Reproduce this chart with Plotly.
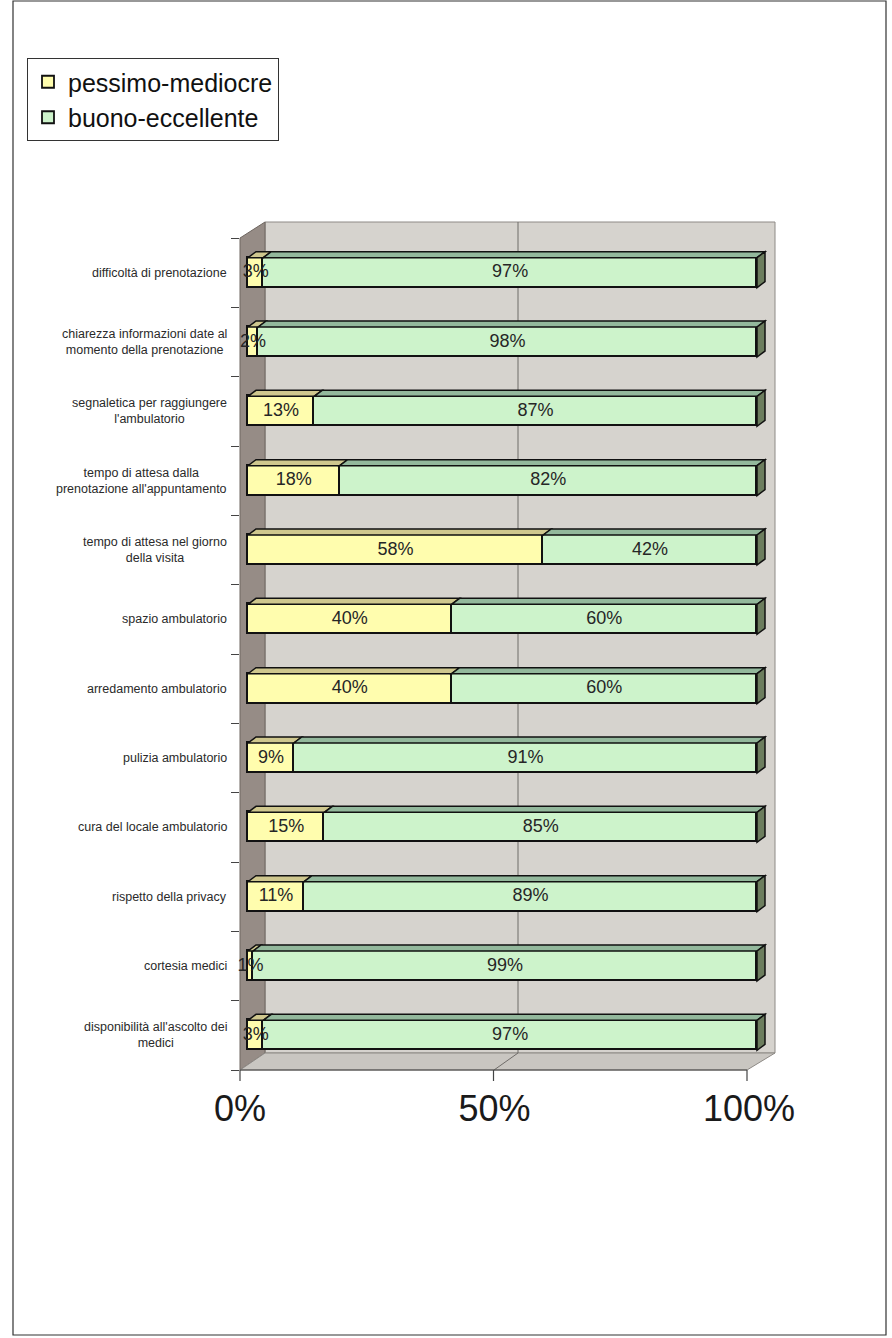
import plotly.graph_objects as go

# ---------------- data ----------------
categories = [
    "difficoltà di prenotazione",
    "chiarezza informazioni date al<br>momento della prenotazione",
    "segnaletica per raggiungere<br>l'ambulatorio",
    "tempo di attesa dalla<br>prenotazione all'appuntamento",
    "tempo di attesa nel giorno<br>della visita",
    "spazio ambulatorio",
    "arredamento ambulatorio",
    "pulizia ambulatorio",
    "cura del locale ambulatorio",
    "rispetto della privacy",
    "cortesia medici",
    "disponibilità all'ascolto dei<br>medici",
]
pessimo_mediocre = [3, 2, 13, 18, 58, 40, 40, 9, 15, 11, 1, 3]
buono_eccellente = [97, 98, 87, 82, 42, 60, 60, 91, 85, 89, 99, 97]
series_names = ["pessimo-mediocre", "buono-eccellente"]
x_tickvals = [0, 50, 100]
x_ticktext = ["0%", "50%", "100%"]

# ---------------- style / geometry ----------------
W, H = 892, 1338
PL, PR, PT, PB = 240, 775, 222, 1070          # plot area in pixels
BAR0, BAR100 = 248, 757                        # bar scale (front face)
FRONT_TOP = 238                                # top category boundary (front)
pxu = (BAR100 - BAR0) / 100.0
x_range = [(PL - BAR0) / pxu, (PR - BAR0) / pxu]
n = len(categories)
cat_px = (PB - FRONT_TOP) / n
y_range = [-0.5, n - 0.5 + (FRONT_TOP - PT) / cat_px]
ypos = list(range(n - 1, -1, -1))             # first category on top

def xp(px):
    return (px - PL) / (PR - PL)

def yp(py):
    return (PB - py) / (PB - PT)

FONT = "Liberation Sans, Arial"
YEL, YEL_TOP = "#FFFDAE", "#CFC78E"
GRN, GRN_TOP, GRN_END = "#CDF3CB", "#93B89C", "#6C7D5E"
BAR_W = 30 / cat_px
DX = 8 / pxu          # depth offset in x units
DY = 6 / cat_px       # depth offset in y units

fig = go.Figure()
for name, vals, col in [(series_names[0], pessimo_mediocre, YEL),
                        (series_names[1], buono_eccellente, GRN)]:
    fig.add_trace(go.Bar(
        y=ypos, x=vals, name=name, orientation="h", width=BAR_W,
        marker=dict(color=col, line=dict(color="#111111", width=1.8)),
        hoverinfo="x+y",
    ))

# data labels on top of every bar segment
lab_x, lab_y, lab_t = [], [], []
for i, yc in enumerate(ypos):
    a, b = pessimo_mediocre[i], buono_eccellente[i]
    lab_x += [a / 2, a + b / 2]
    lab_y += [yc, yc]
    lab_t += [f"{a}%", f"{b}%"]
fig.add_trace(go.Scatter(x=lab_x, y=lab_y, text=lab_t, mode="text",
                         textposition="middle center", showlegend=False,
                         hoverinfo="skip", cliponaxis=False,
                         textfont=dict(family=FONT, size=18, color="#262626")))

shapes = []
# back wall, left wall, floor
shapes.append(dict(type="rect", xref="paper", yref="paper", layer="below",
                   x0=xp(265), x1=xp(775), y0=yp(1053), y1=yp(222),
                   fillcolor="#D6D3CE", line=dict(color="#8E8A86", width=1)))
shapes.append(dict(type="path", xref="paper", yref="paper", layer="below",
                   path=f"M{xp(240)},{yp(238)} L{xp(265)},{yp(222)} L{xp(265)},{yp(1053)} L{xp(240)},{yp(1070)} Z",
                   fillcolor="#968C86", line=dict(color="#6E6660", width=1)))
shapes.append(dict(type="path", xref="paper", yref="paper", layer="below",
                   path=f"M{xp(240)},{yp(1070)} L{xp(265)},{yp(1053)} L{xp(775)},{yp(1053)} L{xp(747)},{yp(1070)} Z",
                   fillcolor="#C9C6C1", line=dict(color="#8E8A86", width=1)))
# gridline at 50% on back wall and floor
shapes.append(dict(type="line", xref="paper", yref="paper", layer="below",
                   x0=xp(518), x1=xp(518), y0=yp(1053), y1=yp(222),
                   line=dict(color="#6F6C69", width=1)))
shapes.append(dict(type="line", xref="paper", yref="paper", layer="below",
                   x0=xp(518), x1=xp(494), y0=yp(1053), y1=yp(1070),
                   line=dict(color="#6F6C69", width=1)))
# front floor edge + tick marks
shapes.append(dict(type="line", xref="paper", yref="paper",
                   x0=xp(240), x1=xp(747), y0=yp(1070), y1=yp(1070),
                   line=dict(color="#444444", width=1.2)))
for tv in x_tickvals:
    tx = 240 + tv * (747 - 240) / 100.0
    shapes.append(dict(type="line", xref="paper", yref="paper",
                       x0=xp(tx), x1=xp(tx), y0=yp(1070), y1=yp(1081),
                       line=dict(color="#444444", width=1.2)))

# 3D faces of bars (top faces and right end caps)
for i, yc in enumerate(ypos):
    top = yc + BAR_W / 2
    bot = yc - BAR_W / 2
    segs = [(0, pessimo_mediocre[i], YEL_TOP),
            (pessimo_mediocre[i], pessimo_mediocre[i] + buono_eccellente[i], GRN_TOP)]
    for x0, x1, col in segs:
        shapes.append(dict(type="path", xref="x", yref="y",
                           path=f"M{x0},{top} L{x1},{top} L{x1+DX},{top+DY} L{x0+DX},{top+DY} Z",
                           fillcolor=col, line=dict(color="#111111", width=1.5)))
    xe = pessimo_mediocre[i] + buono_eccellente[i]
    shapes.append(dict(type="path", xref="x", yref="y",
                       path=f"M{xe},{bot} L{xe},{top} L{xe+DX},{top+DY} L{xe+DX},{bot+DY} Z",
                       fillcolor=GRN_END, line=dict(color="#111111", width=1.5)))

# page frame
shapes.append(dict(type="rect", xref="paper", yref="paper",
                   x0=xp(13), x1=xp(886), y0=yp(1335), y1=yp(1),
                   line=dict(color="#333333", width=1.2), fillcolor="rgba(0,0,0,0)"))

annotations = []
for c, yc in zip(categories, ypos):
    annotations.append(dict(text=c, xref="paper", yref="y", x=xp(229), y=yc,
                            xanchor="right", yanchor="middle", align="center",
                            showarrow=False,
                            font=dict(family=FONT, size=12.5, color="#2A2A2A")))

fig.update_layout(
    width=W, height=H,
    margin=dict(l=PL, r=W - PR, t=PT, b=H - PB, pad=0),
    paper_bgcolor="white", plot_bgcolor="rgba(0,0,0,0)",
    barmode="stack", bargap=0,
    shapes=shapes, annotations=annotations,
    showlegend=True,
    legend=dict(x=xp(27), y=yp(58), xanchor="left", yanchor="top",
                traceorder="normal", bgcolor="white",
                bordercolor="#333333", borderwidth=1,
                font=dict(family=FONT, size=25, color="#111111"),
                itemwidth=30, tracegroupgap=0),
    xaxis=dict(range=x_range, tickvals=x_tickvals, ticktext=x_ticktext,
               showgrid=False, zeroline=False, showline=False, ticks="",
               ticklabelshift=-8, ticklabelstandoff=14,
               tickfont=dict(family=FONT, size=36, color="#1A1A1A")),
    yaxis=dict(range=y_range, tickvals=ypos, ticktext=[""] * n,
               showgrid=False, zeroline=False, showline=False, ticks="",
               minor=dict(tickmode="linear", tick0=-0.5, dtick=1, ticks="outside",
                          ticklen=8, tickcolor="#444444", tickwidth=1, showgrid=False)),
)

fig.write_html("out.html")
